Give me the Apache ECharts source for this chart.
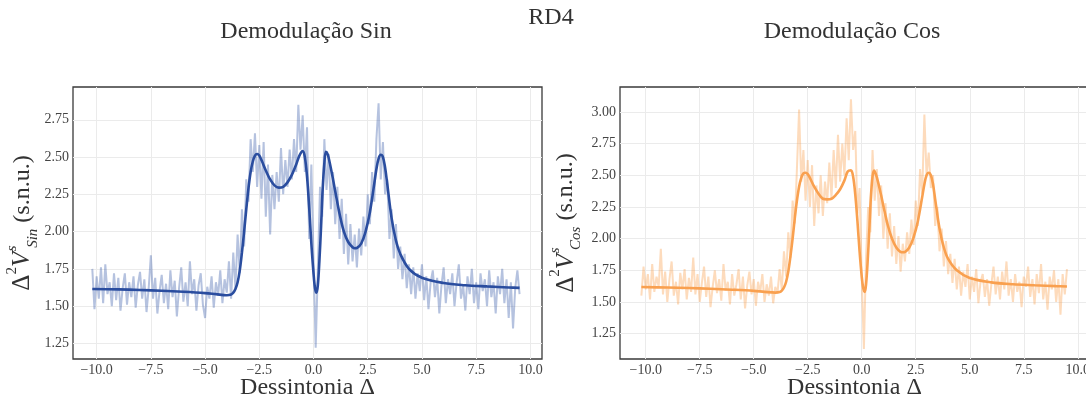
<!DOCTYPE html>
<html>
<head>
<meta charset="utf-8">
<script src="https://cdn.jsdelivr.net/npm/echarts@6/dist/echarts.min.js"></script>
<style>html,body{margin:0;padding:0;background:#fff;overflow:hidden;}#c{width:1086px;height:401px;}</style>
</head>
<body>
<div id="c"></div>
<script>
// ---- data ----
const detuning = [
-10.2,-10.1,-10.0,-9.9,-9.8,-9.7,-9.6,-9.5,-9.4,-9.3,
-9.2,-9.1,-9.0,-8.9,-8.8,-8.7,-8.6,-8.5,-8.4,-8.3,
-8.2,-8.1,-8.0,-7.9,-7.8,-7.7,-7.6,-7.5,-7.4,-7.3,
-7.2,-7.1,-7.0,-6.9,-6.8,-6.7,-6.6,-6.5,-6.4,-6.3,
-6.2,-6.1,-6.0,-5.9,-5.8,-5.7,-5.6,-5.5,-5.4,-5.3,
-5.2,-5.1,-5.0,-4.9,-4.8,-4.7,-4.6,-4.5,-4.4,-4.3,
-4.2,-4.1,-4.0,-3.9,-3.8,-3.7,-3.6,-3.5,-3.4,-3.3,
-3.2,-3.1,-3.0,-2.9,-2.8,-2.7,-2.6,-2.5,-2.4,-2.3,
-2.2,-2.1,-2.0,-1.9,-1.8,-1.7,-1.6,-1.5,-1.4,-1.3,
-1.2,-1.1,-1.0,-0.9,-0.8,-0.7,-0.6,-0.5,-0.4,-0.3,
-0.2,-0.1,0.0,0.1,0.2,0.3,0.4,0.5,0.6,0.7,
0.8,0.9,1.0,1.1,1.2,1.3,1.4,1.5,1.6,1.7,
1.8,1.9,2.0,2.1,2.2,2.3,2.4,2.5,2.6,2.7,
2.8,2.9,3.0,3.1,3.2,3.3,3.4,3.5,3.6,3.7,
3.8,3.9,4.0,4.1,4.2,4.3,4.4,4.5,4.6,4.7,
4.8,4.9,5.0,5.1,5.2,5.3,5.4,5.5,5.6,5.7,
5.8,5.9,6.0,6.1,6.2,6.3,6.4,6.5,6.6,6.7,
6.8,6.9,7.0,7.1,7.2,7.3,7.4,7.5,7.6,7.7,
7.8,7.9,8.0,8.1,8.2,8.3,8.4,8.5,8.6,8.7,
8.8,8.9,9.0,9.1,9.2,9.3,9.4,9.5
];
const sinData = [
1.75,1.48,1.70,1.55,1.76,1.52,1.78,1.58,1.66,1.50,
1.72,1.54,1.69,1.47,1.62,1.72,1.51,1.66,1.56,1.70,
1.49,1.64,1.73,1.55,1.68,1.46,1.62,1.84,1.55,1.69,
1.45,1.60,1.71,1.52,1.65,1.48,1.74,1.56,1.67,1.43,
1.62,1.76,1.53,1.66,1.50,1.80,1.58,1.68,1.47,1.64,
1.72,1.51,1.42,1.63,1.55,1.70,1.49,1.66,1.57,1.74,
1.52,1.68,1.59,1.80,1.55,1.86,1.62,1.98,1.72,2.15,
1.90,2.35,2.20,2.62,2.40,2.66,2.30,2.58,2.22,2.60,
2.10,2.45,1.98,2.38,2.15,2.40,2.20,2.56,2.25,2.48,
2.30,2.55,2.35,2.62,2.40,2.85,2.55,2.78,2.40,2.70,
1.95,2.45,1.82,1.22,1.75,2.30,2.10,2.62,2.28,2.52,
2.15,2.40,2.05,2.30,1.95,2.22,1.85,2.12,1.78,2.05,
1.80,1.98,1.76,2.02,1.84,2.10,1.90,2.25,2.05,2.40,
2.20,2.62,2.86,2.35,2.60,2.25,2.35,1.95,2.15,1.82,
2.05,1.75,1.90,1.68,1.85,1.62,1.78,1.58,1.76,1.55,
1.72,1.60,1.78,1.54,1.70,1.48,1.66,1.74,1.56,1.69,
1.45,1.64,1.76,1.52,1.68,1.58,1.72,1.50,1.66,1.78,
1.55,1.64,1.47,1.70,1.58,1.75,1.52,1.66,1.48,1.72,
1.60,1.68,1.50,1.74,1.56,1.66,1.45,1.70,1.58,1.75,
1.52,1.68,1.42,1.66,1.35,1.62,1.74,1.58
];
const cosData = [
1.55,1.78,1.60,1.72,1.52,1.80,1.58,1.70,1.62,1.92,
1.56,1.74,1.50,1.68,1.82,1.55,1.66,1.48,1.73,1.60,
1.76,1.52,1.69,1.58,1.85,1.56,1.72,1.50,1.65,1.78,
1.54,1.70,1.46,1.62,1.75,1.57,1.68,1.51,1.80,1.59,
1.66,1.48,1.72,1.55,1.64,1.76,1.52,1.70,1.45,1.63,
1.74,1.56,1.68,1.47,1.66,1.58,1.72,1.50,1.64,1.55,
1.70,1.49,1.62,1.57,1.76,1.60,1.90,1.70,2.05,1.85,
2.30,2.12,2.55,3.02,2.45,2.70,2.30,2.62,2.25,2.58,
2.10,2.42,2.20,2.50,2.18,2.45,2.28,2.60,2.32,2.70,
2.40,2.82,2.45,2.75,2.50,2.95,2.62,3.10,2.70,2.85,
2.20,2.40,1.70,1.13,1.85,2.25,2.05,2.70,2.30,2.55,
2.18,2.42,2.00,2.28,1.92,2.20,1.86,2.10,1.80,2.02,
1.74,1.96,1.82,2.05,1.88,2.15,1.95,2.30,2.10,2.55,
2.35,2.98,2.50,2.68,2.40,2.50,2.10,2.25,1.90,2.08,
1.78,1.98,1.72,1.88,1.65,1.84,1.60,1.78,1.55,1.74,
1.62,1.80,1.52,1.70,1.58,1.76,1.49,1.66,1.72,1.54,
1.68,1.47,1.64,1.78,1.56,1.70,1.52,1.74,1.60,1.82,
1.55,1.68,1.50,1.72,1.58,1.66,1.46,1.70,1.62,1.78,
1.54,1.68,1.48,1.72,1.57,1.80,1.52,1.66,1.44,1.70,
1.60,1.75,1.50,1.68,1.40,1.72,1.56,1.76
];
const fitX = [
-10.2,-9,-8,-7,-6,-5,-4.5,-4.0,
-3.8,-3.7,-3.6,-3.5,-3.4,-3.3,-3.2,-3.1,-3.0,
-2.9,-2.8,-2.7,-2.6,-2.5,-2.4,
-2.2,-2.0,-1.8,-1.6,-1.4,-1.2,-1.0,-0.8,
-0.65,-0.5,-0.4,-0.3,-0.2,-0.1,0.0,
0.07,0.14,0.2,0.27,0.35,0.42,0.5,0.57,0.65,0.75,
0.9,1.0,1.2,1.4,1.6,1.8,1.9,2.0,
2.2,2.4,2.6,2.8,2.9,3.0,3.1,3.2,3.3,3.4,
3.6,3.8,4.0,4.4,5.0,6.0,7.0,8.0,9.0,9.5
];
const fitSin = [
1.615,1.612,1.608,1.603,1.596,1.587,1.580,1.573,
1.578,1.59,1.615,1.66,1.74,1.86,2.00,2.15,2.29,
2.40,2.47,2.51,2.52,2.51,2.48,
2.41,2.35,2.31,2.295,2.30,2.33,2.38,2.45,
2.51,2.54,2.50,2.37,2.16,1.92,1.72,
1.62,1.59,1.64,1.80,2.04,2.28,2.46,2.535,2.52,2.46,
2.35,2.27,2.12,2.00,1.93,1.895,1.888,1.89,
1.92,2.00,2.13,2.32,2.42,2.49,2.515,2.50,2.43,2.32,
2.09,1.94,1.85,1.75,1.69,1.655,1.64,1.632,1.625,1.622
];
const fitCos = [
1.618,1.614,1.610,1.604,1.597,1.588,1.580,1.574,
1.578,1.59,1.614,1.66,1.74,1.86,2.00,2.16,2.30,
2.41,2.48,2.515,2.52,2.51,2.48,
2.41,2.355,2.315,2.31,2.315,2.345,2.39,2.46,
2.53,2.54,2.49,2.35,2.14,1.90,1.70,
1.61,1.58,1.64,1.81,2.07,2.32,2.49,2.537,2.51,2.45,
2.34,2.26,2.11,2.00,1.93,1.895,1.893,1.895,
1.93,2.01,2.14,2.33,2.43,2.50,2.52,2.50,2.43,2.31,
2.08,1.93,1.84,1.75,1.69,1.655,1.64,1.632,1.625,1.622
];
const xTicks = [-10, -7.5, -5, -2.5, 0, 2.5, 5, 7.5, 10];
const ySinTicks = [1.25, 1.5, 1.75, 2.0, 2.25, 2.5, 2.75];
const yCosTicks = [1.25, 1.5, 1.75, 2.0, 2.25, 2.5, 2.75, 3.0];

// ---- build ----
const zip = (xs, ys) => xs.map((x, i) => [x, ys[i]]);
const SERIF = '"Liberation Serif", "DejaVu Serif", serif';
const fmt = v => (v < 0 ? '\u2212' + Math.abs(v).toFixed(1) : v.toFixed(1));
const gridColor = '#ebebeb';

function xAxis(gi, min, max) {
  return {
    type: 'value', gridIndex: gi, min: min, max: max,
    axisLine: { show: false },
    axisTick: { show: false, customValues: xTicks },
    axisLabel: { customValues: xTicks, formatter: fmt, fontFamily: SERIF, fontSize: 14, color: '#444', margin: 4 },
    splitLine: { show: true, lineStyle: { color: gridColor, width: 1 } },
    name: 'Dessintonia \u0394', nameLocation: 'middle', nameGap: 17, nameMoveOverlap: false,
    nameTextStyle: { fontFamily: SERIF, fontSize: 24, color: '#333', verticalAlign: 'top' }
  };
}
function richName() {
  return {
    d: { fontFamily: SERIF, fontSize: 25, color: '#333', lineHeight: 36 },
    v: { fontFamily: SERIF, fontSize: 25, fontStyle: 'italic', color: '#333', lineHeight: 36 },
    sup: { fontFamily: SERIF, fontSize: 15, color: '#333', verticalAlign: 'top', lineHeight: 18 },
    sups: { fontFamily: SERIF, fontSize: 15, fontStyle: 'italic', color: '#333', verticalAlign: 'top', lineHeight: 16, width: 1, padding: [0, 0, 0, 3] },
    sub: { fontFamily: SERIF, fontSize: 15, fontStyle: 'italic', color: '#333', verticalAlign: 'bottom', lineHeight: 18 },
    t: { fontFamily: SERIF, fontSize: 24, color: '#333', lineHeight: 36 }
  };
}
function yAxis(gi, min, max, ticks, sub, gap) {
  return {
    type: 'value', gridIndex: gi, min: min, max: max,
    axisLine: { show: false },
    axisTick: { show: false, customValues: ticks },
    axisLabel: { customValues: ticks, formatter: v => v.toFixed(2), fontFamily: SERIF, fontSize: 14, color: '#444', margin: 4 },
    splitLine: { show: true, lineStyle: { color: gridColor, width: 1 } },
    name: '{d|\u0394}{sup|2}{v|V}{sups|s}{sub|' + sub + '}{t| (s.n.u.)}',
    nameLocation: 'middle', nameRotate: 90, nameGap: gap,
    nameTextStyle: { rich: richName() }
  };
}

const noiseStyle = (c) => ({ type: 'line', showSymbol: false, symbol: 'none', lineStyle: { color: c, width: 2 }, z: 2, silent: true });
const fitStyle = (c) => ({ type: 'line', showSymbol: false, symbol: 'none', smooth: 0.35, lineStyle: { color: c, width: 2.6 }, z: 3, silent: true });

const option = {
  animation: false,
  backgroundColor: '#fff',
  grid: [
    { left: 73, top: 87, width: 469, height: 272, outerBoundsMode: 'none', containLabel: false, show: true, borderColor: '#3a3a3a', borderWidth: 1.3, backgroundColor: '#fff' },
    { left: 620, top: 87, width: 469, height: 272, outerBoundsMode: 'none', containLabel: false, show: true, borderColor: '#3a3a3a', borderWidth: 1.3, backgroundColor: '#fff' }
  ],
  xAxis: [xAxis(0, -11.09, 10.535), xAxis(1, -11.19, 10.52)],
  yAxis: [yAxis(0, 1.145, 2.97, ySinTicks, 'Sin', 32), yAxis(1, 1.05, 3.197, yCosTicks, 'Cos', 36)],
  series: [
    Object.assign(noiseStyle('rgba(43,79,162,0.35)'), { xAxisIndex: 0, yAxisIndex: 0, data: zip(detuning, sinData) }),
    Object.assign(fitStyle('#2a4d9f'), { xAxisIndex: 0, yAxisIndex: 0, data: zip(fitX, fitSin) }),
    Object.assign(noiseStyle('rgba(249,160,79,0.38)'), { xAxisIndex: 1, yAxisIndex: 1, data: zip(detuning, cosData) }),
    Object.assign(fitStyle('#f9a04f'), { xAxisIndex: 1, yAxisIndex: 1, data: zip(fitX, fitCos) })
  ],
  graphic: [
    { type: 'text', x: 551, y: 18, style: { text: 'RD4', fontFamily: SERIF, fontSize: 24, fill: '#333', textAlign: 'center', textVerticalAlign: 'middle' } },
    { type: 'text', x: 306, y: 32, style: { text: 'Demodulação Sin', fontFamily: SERIF, fontSize: 24, fill: '#333', textAlign: 'center', textVerticalAlign: 'middle' } },
    { type: 'text', x: 852, y: 32, style: { text: 'Demodulação Cos', fontFamily: SERIF, fontSize: 24, fill: '#333', textAlign: 'center', textVerticalAlign: 'middle' } }
  ]
};
const chart = echarts.init(document.getElementById('c'), null, { renderer: 'canvas' });
chart.setOption(option);
</script>
</body>
</html>
